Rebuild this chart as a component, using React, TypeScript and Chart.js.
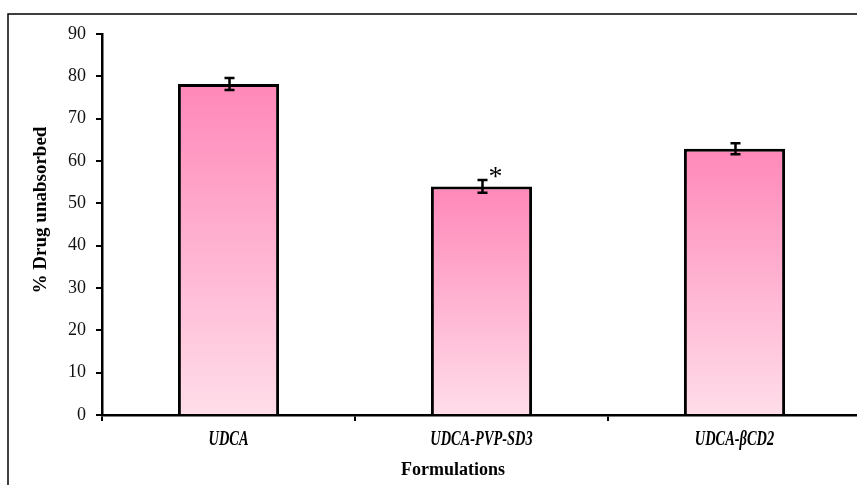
import React, { useEffect, useRef } from "react";
import { Chart, registerables } from "chart.js";

Chart.register(...registerables);

const categories = ["UDCA", "UDCA-PVP-SD3", "UDCA-\u03B2CD2"];
const values = [78.2, 54.0, 62.9];
const errors = [1.4, 1.5, 1.3];
const significant = [false, true, false];
const yTicks = [0, 10, 20, 30, 40, 50, 60, 70, 80, 90];
const yTitle = "% Drug unabsorbed";
const xTitle = "Formulations";

const SERIF = "'Liberation Serif', 'Times New Roman', serif";

const overlayPlugin = {
  id: "overlay",
  afterDatasetsDraw(chart: any) {
    const ctx = chart.ctx;
    const meta = chart.getDatasetMeta(0);
    const ys = chart.scales.y;
    ctx.save();
    ctx.strokeStyle = "#000";
    ctx.lineWidth = 2.5;
    meta.data.forEach((bar: any, i: number) => {
      const x = Math.round(bar.x) + 0.5;
      const yHi = ys.getPixelForValue(values[i] + errors[i]);
      const yLo = ys.getPixelForValue(values[i] - errors[i]);
      ctx.beginPath();
      ctx.moveTo(x, yHi);
      ctx.lineTo(x, yLo);
      ctx.moveTo(x - 5, yHi);
      ctx.lineTo(x + 5, yHi);
      ctx.moveTo(x - 5, yLo);
      ctx.lineTo(x + 5, yLo);
      ctx.stroke();
      if (significant[i]) {
        ctx.fillStyle = "#000";
        ctx.font = `28px ${SERIF}`;
        ctx.textAlign = "center";
        ctx.textBaseline = "alphabetic";
        ctx.fillText("*", bar.x + 14, yHi + 5);
      }
    });
    ctx.restore();
  },
  afterDraw(chart: any) {
    const ctx = chart.ctx;
    const xs = chart.scales.x;
    ctx.save();
    // outer frame
    ctx.strokeStyle = "#000";
    ctx.lineWidth = 1.5;
    ctx.beginPath();
    ctx.moveTo(8, 485);
    ctx.lineTo(8, 14);
    ctx.lineTo(880, 14);
    ctx.stroke();
    // category labels
    ctx.fillStyle = "#000";
    ctx.textAlign = "center";
    ctx.textBaseline = "alphabetic";
    ctx.font = `italic bold 20px ${SERIF}`;
    categories.forEach((c, i) => {
      const x = xs.getPixelForValue(i);
      ctx.save();
      ctx.translate(x, 445);
      ctx.scale(0.72, 1);
      ctx.fillText(c, 0, 0);
      ctx.restore();
    });
    // x title
    ctx.font = `bold 18px ${SERIF}`;
    ctx.fillText(xTitle, 453, 475);
    // y title
    ctx.save();
    ctx.translate(46, 210);
    ctx.rotate(-Math.PI / 2);
    ctx.font = `bold 19px ${SERIF}`;
    ctx.fillText(yTitle, 0, 0);
    ctx.restore();
    ctx.restore();
  },
};

export default function App() {
  const ref = useRef<HTMLCanvasElement | null>(null);
  useEffect(() => {
    if (!ref.current) return;
    const chart = new Chart(ref.current, {
      type: "bar",
      data: {
        labels: categories,
        datasets: [
          {
            data: values,
            backgroundColor: (c: any) => {
              const ch = c.chart;
              if (!ch.chartArea) return "#ff88b9";
              const ys = ch.scales.y;
              const top = ys.getPixelForValue(values[c.dataIndex]);
              const bot = ys.getPixelForValue(0);
              const g = ch.ctx.createLinearGradient(0, top, 0, bot);
              g.addColorStop(0, "#ff88b9");
              g.addColorStop(1, "#ffdde9");
              return g;
            },
            borderColor: "#000",
            borderWidth: 3,
            borderSkipped: "bottom",
            barPercentage: 0.4,
            categoryPercentage: 1,
          },
        ],
      },
      options: {
        responsive: false,
        animation: false,
        devicePixelRatio: 1,
        layout: { padding: { top: 34, right: 19, left: 0, bottom: 0 } },
        plugins: { legend: { display: false }, tooltip: { enabled: false } },
        scales: {
          x: {
            type: "category",
            grid: {
              offset: true,
              drawOnChartArea: false,
              drawTicks: true,
              tickLength: 6,
              color: "#000",
              lineWidth: 2,
            },
            border: { display: true, color: "#000", width: 2.5 },
            ticks: { color: "rgba(0,0,0,0)", font: { size: 12 } },
            afterFit: (s: any) => {
              s.height = 70;
            },
          },
          y: {
            min: 0,
            max: 90,
            afterBuildTicks: (s: any) => {
              s.ticks = yTicks.map((v) => ({ value: v }));
            },
            grid: {
              drawOnChartArea: false,
              drawTicks: true,
              tickLength: 6,
              color: "#000",
              lineWidth: 2,
            },
            border: { display: true, color: "#000", width: 2.5 },
            ticks: {
              color: "#111",
              padding: 10,
              font: { family: SERIF, size: 18 },
            },
            afterFit: (s: any) => {
              s.width = 102;
            },
          },
        },
      },
      plugins: [overlayPlugin],
    });
    return () => chart.destroy();
  }, []);
  return (
    <div
      style={{
        position: "fixed",
        left: 0,
        top: 0,
        width: 857,
        height: 485,
        overflow: "hidden",
        background: "#fff",
      }}
    >
      <canvas ref={ref} width={880} height={485} style={{ width: 880, height: 485, display: "block" }} />
    </div>
  );
}
